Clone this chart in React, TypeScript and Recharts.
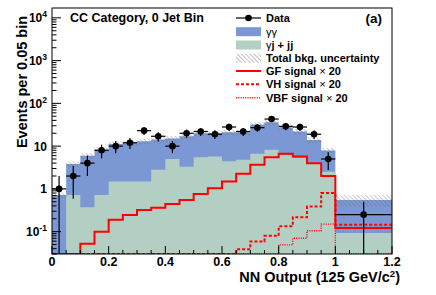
import React from "react";
import { ComposedChart, Area, Line, Scatter, ErrorBar, XAxis, YAxis } from "recharts";

// NN output binning: 0.05 wide bins up to 1.0, one wide bin 1.0-1.2
const binEdges = [0, 0.05, 0.1, 0.15, 0.2, 0.25, 0.3, 0.35, 0.4, 0.45, 0.5, 0.55, 0.6, 0.65, 0.7, 0.75, 0.8, 0.85, 0.9, 0.95, 1.0, 1.2];

// events per 0.05 bin
const dataEvents = [1, 2, 4, 8, 10, 12, 23, 17, 10, 20, 22, 19, 28, 22, 27, 43, 29, 28, 19, 5, 0.25];
const gammaGamma = [0.72, 3.1, 5.6, 7.5, 9.8, 10.4, 11.5, 11.5, 10.0, 13.7, 14.5, 14.3, 16.6, 16.2, 25.4, 27.8, 21.4, 16.7, 10.2, 5.4, 0.46];
const gammaJet = [0, 0.72, 0.37, 0.72, 1.48, 1.48, 1.48, 2.8, 5.0, 3.3, 5.5, 5.7, 4.4, 4.8, 6.6, 8.2, 6.3, 5.3, 3.8, 2.5, 0.093];
const bkgRelUnc = [0.15, 0.15, 0.15, 0.15, 0.15, 0.15, 0.15, 0.15, 0.15, 0.15, 0.15, 0.15, 0.15, 0.15, 0.15, 0.15, 0.15, 0.15, 0.15, 0.15, 0.3];
const gfSignal = [0, 0, 0.052, 0.1, 0.19, 0.245, 0.32, 0.36, 0.445, 0.55, 0.76, 1.03, 1.48, 2.25, 3.65, 5.5, 6.6, 5.7, 4.0, 2.0, 0.122];
const vhSignal = [0, 0, 0, 0, 0, 0, 0, 0, 0, 0, 0, 0, 0, 0.039, 0.059, 0.08, 0.133, 0.216, 0.385, 0.8, 0.144];
const vbfSignal = [0, 0, 0, 0, 0, 0, 0, 0, 0, 0, 0, 0, 0, 0, 0, 0, 0.049, 0.07, 0.105, 0.15, 0];

const xMajorTicks = [0, 0.2, 0.4, 0.6, 0.8, 1.0, 1.2];
const xTickLabels = ["0", "0.2", "0.4", "0.6", "0.8", "1", "1.2"];
const yMajorTicks = [0.1, 1, 10, 100, 1000, 10000];
const yTickLabels = [["10", "-1"], ["1", ""], ["10", ""], ["10", "2"], ["10", "3"], ["10", "4"]];

const YMIN = 0.03;
const YMAX = 17000;
const FONT = "'Liberation Sans', Arial, Helvetica, sans-serif";
const BLUE = "#7b97d4";
const GREEN = "#b3cfc4";
const RED = "#ff0000";

const clamp = (v: number) => Math.max(v, YMIN);
const nBins = dataEvents.length;

// step rows at bin edges (stepAfter), last edge repeats the last bin
const rows = binEdges.map((x, i) => {
  const b = Math.min(i, nBins - 1);
  const total = gammaGamma[b] + gammaJet[b];
  return {
    x,
    total: clamp(total),
    gj: clamp(gammaJet[b]),
    unc: [clamp(total * (1 - bkgRelUnc[b])), clamp(total * (1 + bkgRelUnc[b]))],
    gf: clamp(gfSignal[b]),
    vh: clamp(vhSignal[b]),
    vbf: clamp(vbfSignal[b]),
  };
});

const points = dataEvents.map((n, b) => {
  const lo = binEdges[b];
  const hi = binEdges[b + 1];
  const w = hi - lo;
  const raw = (n * w) / 0.05;
  const err = (Math.sqrt(raw) * 0.05) / w;
  return { x: (lo + hi) / 2, y: n, ey: [n - Math.max(n - err, YMIN), err], ex: [w / 2, w / 2] };
});

const xMinorTicks: number[] = [];
for (let i = 0; i <= 24; i++) xMinorTicks.push(Math.round(i * 5) / 100);

const yAllTicks: number[] = [];
for (let e = -2; e <= 4; e++) {
  for (let m = 1; m <= 9; m++) {
    const v = parseFloat((m * Math.pow(10, e)).toPrecision(3));
    if (v >= YMIN && v <= YMAX) yAllTicks.push(v);
  }
}

const XTick = (props: any) => {
  const { x, y, payload } = props;
  const idx = xMajorTicks.findIndex((t) => Math.abs(t - payload.value) < 1e-6);
  const major = idx >= 0;
  return (
    <g>
      <line x1={x} x2={x} y1={y} y2={y - (major ? 8 : 4)} stroke="#000" strokeWidth={1} />
      {major && (
        <text x={x} y={y + 12} textAnchor="middle" fontSize={12.5} fontWeight="bold" fontFamily={FONT} fill="#000">
          {xTickLabels[idx]}
        </text>
      )}
    </g>
  );
};

const YTick = (props: any) => {
  const { x, y, payload } = props;
  const idx = yMajorTicks.findIndex((t) => Math.abs(t - payload.value) / t < 1e-6);
  const major = idx >= 0;
  return (
    <g>
      <line x1={x} x2={x + (major ? 9 : 4.5)} y1={y} y2={y} stroke="#000" strokeWidth={1} />
      {major && (
        <text x={x - 5} y={y + 4.5} textAnchor="end" fontSize={12} fontWeight="bold" fontFamily={FONT} fill="#000">
          {yTickLabels[idx][0]}
          {yTickLabels[idx][1] && (
            <tspan dy={-5} fontSize={8.5}>
              {yTickLabels[idx][1]}
            </tspan>
          )}
        </text>
      )}
    </g>
  );
};

const legendRows = [
  { key: "data", label: "Data", y: 18 },
  { key: "gg", label: "γγ", y: 31.7 },
  { key: "gj", label: "γj + jj", y: 45 },
  { key: "unc", label: "Total bkg. uncertainty", y: 58.3 },
  { key: "gf", label: "GF signal", y: 71 },
  { key: "vh", label: "VH signal", y: 84.3 },
  { key: "vbf", label: "VBF signal", y: 97.7 },
];

function LegendSymbol({ k, y }: { k: string; y: number }) {
  const x0 = 236;
  const x1 = 261;
  if (k === "data")
    return (
      <g>
        <line x1={x0} x2={x1} y1={y} y2={y} stroke="#000" strokeWidth={1.2} />
        <circle cx={(x0 + x1) / 2} cy={y} r={3.3} fill="#000" />
      </g>
    );
  if (k === "gg") return <rect x={x0} y={y - 4.5} width={x1 - x0} height={9} fill={BLUE} />;
  if (k === "gj") return <rect x={x0} y={y - 4.5} width={x1 - x0} height={9} fill={GREEN} />;
  if (k === "unc") return <rect x={x0} y={y - 4.5} width={x1 - x0} height={9} fill="url(#hatchLegend)" />;
  if (k === "gf") return <line x1={x0} x2={x1} y1={y} y2={y} stroke={RED} strokeWidth={2} />;
  if (k === "vh") return <line x1={x0} x2={x1} y1={y} y2={y} stroke={RED} strokeWidth={2} strokeDasharray="3 2" />;
  return <line x1={x0} x2={x1} y1={y} y2={y} stroke={RED} strokeWidth={1.4} strokeDasharray="1 1.3" />;
}

function Overlay() {
  return (
    <svg width={436} height={295} style={{ position: "absolute", left: 0, top: 0, pointerEvents: "none" }}>
      <defs>
        <pattern id="hatchLegend" width={3} height={3} patternUnits="userSpaceOnUse" patternTransform="rotate(-45)">
          <line x1={0} y1={0} x2={0} y2={3} stroke="#666" strokeWidth={0.8} />
        </pattern>
      </defs>
      <rect x={52} y={8} width={340} height={246} fill="none" stroke="#000" strokeWidth={1} />
      <text x={70} y={22.3} fontSize={12.5} fontWeight="bold" fontFamily={FONT}>
        CC Category, 0 Jet Bin
      </text>
      <text x={382} y={22.5} textAnchor="end" fontSize={13.5} fontWeight="bold" fontFamily={FONT}>
        (a)
      </text>
      {legendRows.map((r) => (
        <g key={r.key}>
          <LegendSymbol k={r.key} y={r.y} />
          <text x={266} y={r.y + 4} fontSize={11} fontWeight={r.key === "gg" ? "normal" : "bold"} fontFamily={FONT}>
            {r.key === "gj" ? (
              <>
                <tspan fontWeight="normal">γ</tspan>j + jj
              </>
            ) : (
              r.label
            )}
            {(r.key === "gf" || r.key === "vh" || r.key === "vbf") && (
              <>
                {" "}
                <tspan fontWeight="normal">×</tspan> 20
              </>
            )}
          </text>
        </g>
      ))}
      <text
        transform="translate(27,82) rotate(-90)"
        textAnchor="middle"
        fontSize={14.5}
        fontWeight="bold"
        fontFamily={FONT}
      >
        Events per 0.05 bin
      </text>
      <text x={400} y={281.5} textAnchor="end" fontSize={14.5} fontWeight="bold" fontFamily={FONT}>
        NN Output (125 GeV/c
        <tspan dy={-5} fontSize={9.5}>
          2
        </tspan>
        <tspan dy={5}>)</tspan>
      </text>
    </svg>
  );
}

export default function App() {
  return (
    <div style={{ position: "absolute", left: 0, top: 0, width: 436, height: 295, background: "#fff" }}>
      <ComposedChart width={436} height={295} data={rows} margin={{ top: 8, right: 44, bottom: 16, left: 0 }}>
        <defs>
          <pattern id="hatchBand" width={3} height={3} patternUnits="userSpaceOnUse" patternTransform="rotate(-45)">
            <line x1={0} y1={0} x2={0} y2={3} stroke="#666" strokeWidth={0.7} />
          </pattern>
        </defs>
        <Area type="stepAfter" dataKey="total" stroke="none" fill={BLUE} fillOpacity={1} baseValue={YMIN} isAnimationActive={false} />
        <Area type="stepAfter" dataKey="gj" stroke="none" fill={GREEN} fillOpacity={1} baseValue={YMIN} isAnimationActive={false} />
        <Area type="stepAfter" dataKey="unc" stroke="none" fill="url(#hatchBand)" fillOpacity={1} isAnimationActive={false} />
        <Line type="stepAfter" dataKey="vbf" stroke={RED} strokeWidth={1.4} strokeDasharray="1 1.3" dot={false} isAnimationActive={false} />
        <Line type="stepAfter" dataKey="vh" stroke={RED} strokeWidth={2} strokeDasharray="3 2" dot={false} isAnimationActive={false} />
        <Line type="stepAfter" dataKey="gf" stroke={RED} strokeWidth={2} dot={false} isAnimationActive={false} />
        <Scatter
          data={points}
          dataKey="y"
          isAnimationActive={false}
          shape={(p: any) => <circle cx={p.cx} cy={p.cy} r={3.3} fill="#000" />}
        >
          <ErrorBar dataKey="ey" direction="y" width={0} stroke="#000" strokeWidth={1.2} />
          <ErrorBar dataKey="ex" direction="x" width={0} stroke="#000" strokeWidth={1.2} />
        </Scatter>
        <XAxis
          dataKey="x"
          type="number"
          domain={[0, 1.2]}
          allowDataOverflow
          ticks={xMinorTicks}
          interval={0}
          tick={<XTick />}
          tickLine={false}
          axisLine={false}
          tickSize={0}
          tickMargin={0}
          height={25}
        />
        <YAxis
          type="number"
          scale="log"
          domain={[YMIN, YMAX]}
          allowDataOverflow
          ticks={yAllTicks}
          interval={0}
          tick={<YTick />}
          tickLine={false}
          axisLine={false}
          tickSize={0}
          tickMargin={0}
          width={52}
        />
      </ComposedChart>
      <Overlay />
    </div>
  );
}
